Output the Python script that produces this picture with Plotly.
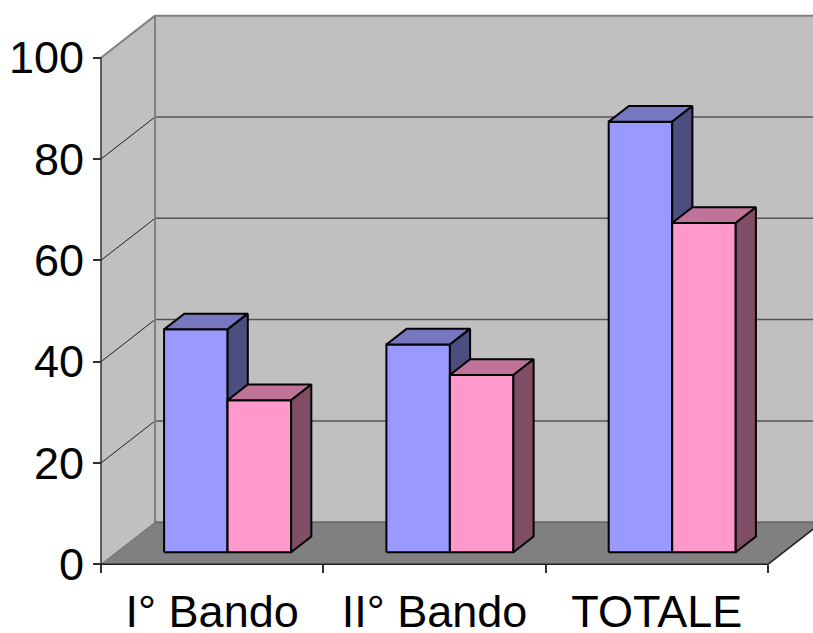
import plotly.graph_objects as go

# ---- data ----
categories = ["I° Bando", "II° Bando", "TOTALE"]
series_blue = [44, 41, 85]
series_pink = [30, 35, 65]
y_ticks = [0, 20, 40, 60, 80, 100]

# ---- pseudo-3D projection settings ----
WALL_DX, WALL_DY = 0.243, 8.3      # back-wall offset (category units, value units)
BAR_D0, BAR_D1 = 0.286, 0.66       # depth fraction of bar front / back faces
GAP_WIDTH = 1.5                    # gap between groups, relative to bar width
BAR_W = 1.0 / (2 + GAP_WIDTH)
N = len(categories)
Y_MAX = 100

series = [
    (series_blue, "#9999ff", "#7777bf", "#4d4d80"),
    (series_pink, "#ff99cc", "#bf7399", "#804d66"),
]

fig = go.Figure()


def poly(xs, ys, fill, line_color="black", lw=2.0):
    fig.add_trace(go.Scatter(
        x=list(xs) + [xs[0]], y=list(ys) + [ys[0]],
        mode="lines", fill="toself", fillcolor=fill,
        line=dict(color=line_color, width=lw),
        hoverinfo="skip", showlegend=False))


def seg(x0, y0, x1, y1, color, lw):
    fig.add_trace(go.Scatter(
        x=[x0, x1], y=[y0, y1], mode="lines",
        line=dict(color=color, width=lw),
        hoverinfo="skip", showlegend=False))


def off(f):
    return WALL_DX * f, WALL_DY * f


# walls and floor
poly([0, 0, WALL_DX, WALL_DX], [0, Y_MAX, Y_MAX + WALL_DY, WALL_DY], "#c0c0c0", lw=0)
poly([WALL_DX, WALL_DX, N + WALL_DX + 0.5, N + WALL_DX + 0.5],
     [WALL_DY, Y_MAX + WALL_DY, Y_MAX + WALL_DY, WALL_DY], "#c0c0c0", lw=0)
poly([0, N, N + WALL_DX, WALL_DX], [0, 0, WALL_DY, WALL_DY], "#808080", lw=0)

# gridlines on side and back walls
for v in y_ticks[1:-1]:
    seg(0, v, WALL_DX, v + WALL_DY, "#202020", 1)
    seg(WALL_DX, v + WALL_DY, N + WALL_DX + 0.5, v + WALL_DY, "#555555", 1.5)

# wall borders
seg(0, Y_MAX, WALL_DX, Y_MAX + WALL_DY, "#808080", 2)
seg(WALL_DX, WALL_DY, WALL_DX, Y_MAX + WALL_DY, "#808080", 2)
seg(WALL_DX, Y_MAX + WALL_DY, N + WALL_DX + 0.5, Y_MAX + WALL_DY, "#808080", 2)
seg(WALL_DX, WALL_DY, N + WALL_DX + 0.5, WALL_DY, "#6a6a6a", 2)
seg(0, 0, WALL_DX, WALL_DY, "#707070", 1)
seg(0, 0, N, 0, "#202020", 1.5)
seg(N, 0, N + WALL_DX, WALL_DY, "#202020", 1.5)
seg(0, 0, 0, Y_MAX, "#303030", 1.5)

# bars
ox0, oy0 = off(BAR_D0)
ox1, oy1 = off(BAR_D1)
for i in range(N):
    for s, (vals, c_front, c_top, c_side) in enumerate(series):
        v = vals[i]
        x0 = i + BAR_W * GAP_WIDTH / 2 + s * BAR_W
        x1 = x0 + BAR_W
        # front face
        poly([x0 + ox0, x1 + ox0, x1 + ox0, x0 + ox0],
             [oy0, oy0, v + oy0, v + oy0], c_front)
        # top face
        poly([x0 + ox0, x1 + ox0, x1 + ox1, x0 + ox1],
             [v + oy0, v + oy0, v + oy1, v + oy1], c_top)
        # side face
        poly([x1 + ox0, x1 + ox0, x1 + ox1, x1 + ox1],
             [oy0, v + oy0, v + oy1, oy1], c_side)

W, H = 813, 633
X_ORIG, X_UNIT = 101.0, 222.3     # pixel of x=0, pixels per category
Y_ORIG, Y_UNIT = 564.3, 5.066     # pixel of y=0, pixels per value unit

fig.update_layout(
    width=W, height=H,
    margin=dict(l=0, r=0, t=0, b=0, autoexpand=False),
    paper_bgcolor="white", plot_bgcolor="white",
    font=dict(family="Liberation Sans, Arial, sans-serif", color="black"),
    xaxis=dict(
        domain=[0, 1], automargin=False,
        range=[-X_ORIG / X_UNIT, (W - X_ORIG) / X_UNIT],
        anchor="free", position=(H - Y_ORIG) / H,
        tickvals=[i + 0.5 for i in range(N)], ticktext=categories,
        ticks="", ticklabelstandoff=17,
        tickfont=dict(size=45, color="black"),
        minor=dict(tickvals=list(range(N + 1)), ticks="outside",
                   ticklen=8, tickcolor="#303030", tickwidth=1.5, showgrid=False),
        showgrid=False, zeroline=False, showline=False, fixedrange=True,
    ),
    yaxis=dict(
        domain=[0, 1], automargin=False,
        range=[-(H - Y_ORIG) / Y_UNIT, Y_ORIG / Y_UNIT],
        anchor="free", position=X_ORIG / W,
        tickvals=y_ticks, ticks="outside", ticklen=8,
        tickcolor="#303030", tickwidth=1.5,
        tickfont=dict(size=45, color="black"),
        showgrid=False, zeroline=False, showline=False, fixedrange=True,
    ),
)

fig.write_html("out.html")
